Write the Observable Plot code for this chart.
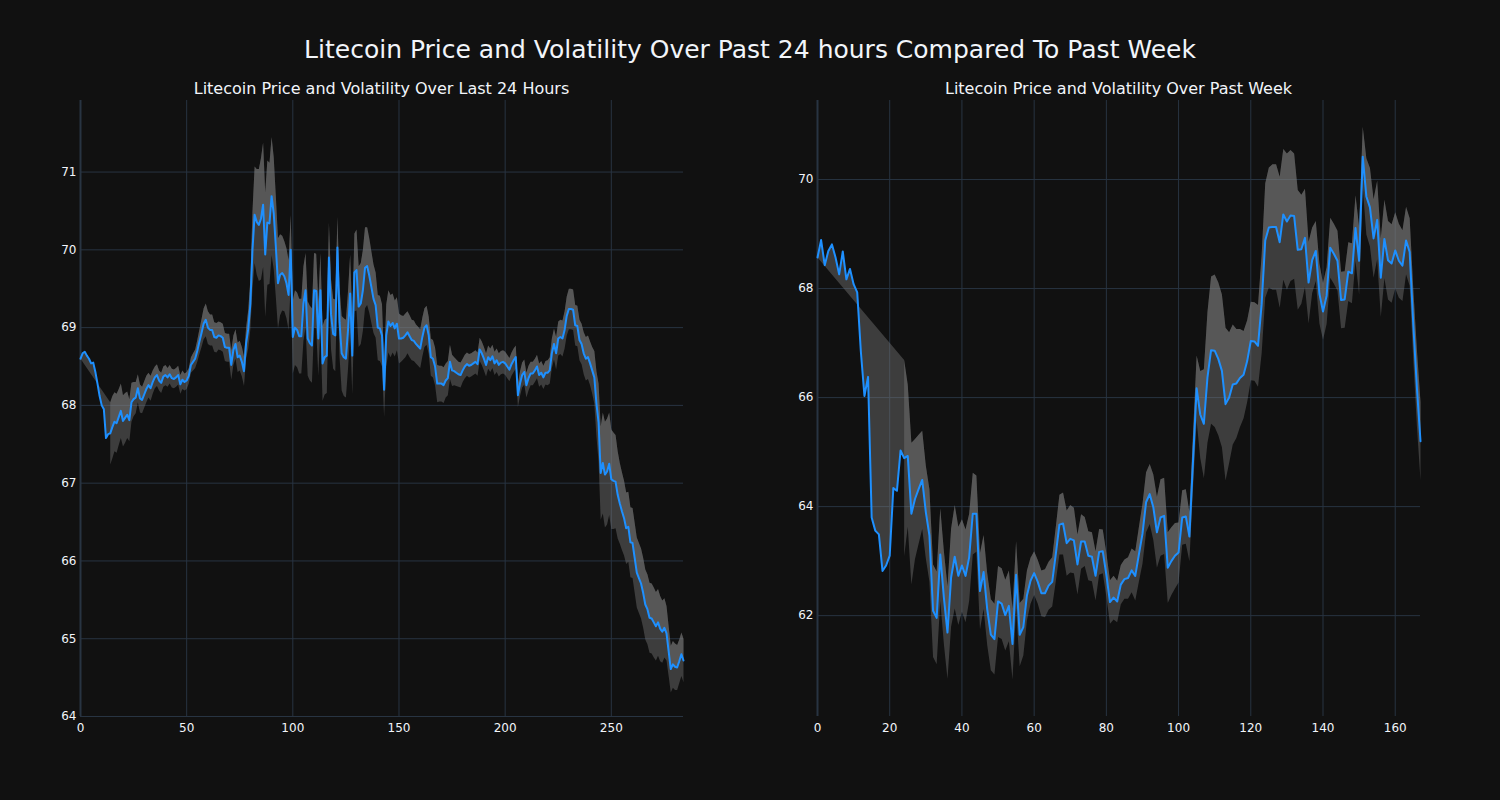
<!DOCTYPE html>
<html><head><meta charset="utf-8">
<script src="https://cdn.jsdelivr.net/npm/d3@7"></script>
<script src="https://cdn.jsdelivr.net/npm/@observablehq/plot@0.6"></script>
<style>
html,body{margin:0;padding:0;background:#111111;}
#wrap{position:relative;width:1500px;height:800px;background:#111111;font-family:"DejaVu Sans",sans-serif;color:#f2f5fa;overflow:hidden;}
.title{position:absolute;left:0;width:1500px;top:36px;line-height:28px;text-align:center;font-size:25px;}
.sub{position:absolute;top:80px;line-height:18px;font-size:16px;text-align:center;}
.panel{position:absolute;top:0;}
</style></head><body>
<div id="wrap">
  <div class="title">Litecoin Price and Volatility Over Past 24 hours Compared To Past Week</div>
  <div class="sub" style="left:80px;width:603px;">Litecoin Price and Volatility Over Last 24 Hours</div>
  <div class="sub" style="left:817px;width:603px;">Litecoin Price and Volatility Over Past Week</div>
  <div class="panel" id="left" style="left:0px;"></div>
  <div class="panel" id="right" style="left:750px;"></div>
</div>
<script>
// ---- Last 24 hours (5-minute steps) ----
const dayPrice = [
68.60,68.67,68.69,68.64,68.60,68.54,68.55,68.43,68.28,68.12,
68.00,67.95,67.58,67.63,67.64,67.72,67.79,67.77,67.85,67.93,
67.80,67.84,67.88,67.81,68.04,68.08,68.10,68.22,68.09,68.07,
68.14,68.21,68.26,68.22,68.30,68.36,68.39,68.32,68.29,68.37,
68.39,68.36,68.40,68.35,68.34,68.36,68.39,68.27,68.33,68.30,
68.32,68.38,68.52,68.56,68.60,68.70,68.82,68.93,69.05,69.10,
69.00,68.97,68.97,68.88,68.87,68.90,68.89,68.87,68.75,68.74,
68.74,68.52,68.71,68.79,68.62,68.64,68.56,68.44,68.80,68.98,
69.30,70.00,70.45,70.36,70.32,70.40,70.58,69.94,70.35,70.34,
70.69,70.47,70.04,69.57,69.68,69.70,69.66,69.57,69.42,70.00,
68.88,69.00,68.97,68.89,68.89,69.31,69.48,68.86,68.80,68.77,
69.48,69.47,68.86,69.48,68.54,68.62,68.64,69.90,69.17,68.92,
68.90,70.03,69.07,68.67,68.62,68.60,68.97,69.44,68.64,69.71,
69.74,69.27,69.31,69.48,69.77,69.79,69.67,69.52,69.37,69.29,
69.00,68.99,68.90,68.20,68.90,69.08,69.02,69.06,68.99,69.05,
68.86,68.86,68.87,68.90,68.94,68.89,68.84,68.83,68.79,68.76,
68.73,68.88,69.00,69.03,68.90,68.62,68.60,68.50,68.28,68.28,
68.28,68.26,68.32,68.35,68.56,68.45,68.44,68.42,68.40,68.39,
68.45,68.50,68.53,68.51,68.52,68.54,68.56,68.53,68.72,68.67,
68.60,68.52,68.62,68.58,68.63,68.54,68.58,68.52,68.55,68.56,
68.54,68.50,68.46,68.53,68.58,68.62,68.13,68.28,68.39,68.43,
68.26,68.35,68.41,68.41,68.45,68.50,68.39,68.42,68.36,68.42,
68.42,68.45,68.67,68.79,68.67,68.86,68.88,68.86,68.97,69.15,
69.24,69.24,69.23,69.03,69.02,68.84,68.79,68.67,68.60,68.62,
68.54,68.45,68.36,68.02,67.78,67.13,67.26,67.11,67.15,67.25,
67.05,67.03,67.02,66.85,66.74,66.64,66.55,66.42,66.44,66.24,
66.23,66.04,65.85,65.78,65.71,65.59,65.44,65.38,65.27,65.26,
65.21,65.16,65.21,65.13,65.09,65.14,65.07,64.84,64.61,64.67,
64.64,64.63,64.71,64.80,64.72
];
const dayVol = [
null,null,null,null,null,null,null,null,null,null,
null,null,null,null,0.40,0.40,0.38,0.38,0.36,0.35,
0.33,0.32,0.30,0.27,0.25,0.22,0.20,0.18,0.18,0.17,
0.17,0.17,0.16,0.16,0.15,0.14,0.14,0.13,0.13,0.13,
0.13,0.12,0.12,0.12,0.12,0.12,0.12,0.12,0.12,0.11,
0.11,0.10,0.10,0.11,0.12,0.14,0.16,0.18,0.20,0.21,
0.21,0.20,0.20,0.19,0.19,0.18,0.18,0.18,0.18,0.18,
0.18,0.19,0.19,0.19,0.19,0.19,0.19,0.19,0.20,0.25,
0.32,0.50,0.62,0.68,0.72,0.78,0.80,0.80,0.80,0.78,
0.76,0.72,0.65,0.58,0.52,0.48,0.45,0.45,0.45,0.45,
0.47,0.48,0.48,0.48,0.48,0.48,0.48,0.48,0.48,0.48,
0.48,0.48,0.48,0.48,0.48,0.48,0.48,0.45,0.45,0.45,
0.46,0.40,0.45,0.48,0.50,0.50,0.50,0.50,0.50,0.50,
0.52,0.52,0.52,0.52,0.52,0.50,0.48,0.46,0.44,0.42,
0.42,0.42,0.40,0.35,0.40,0.40,0.40,0.38,0.36,0.34,
0.32,0.30,0.28,0.28,0.27,0.27,0.26,0.26,0.25,0.25,
0.25,0.25,0.25,0.25,0.24,0.24,0.24,0.24,0.24,0.23,
0.23,0.23,0.22,0.22,0.22,0.20,0.18,0.17,0.16,0.16,
0.15,0.15,0.15,0.15,0.15,0.15,0.15,0.15,0.15,0.15,
0.15,0.15,0.15,0.15,0.15,0.15,0.15,0.15,0.15,0.15,
0.15,0.15,0.15,0.15,0.15,0.15,0.15,0.16,0.16,0.16,
0.16,0.16,0.15,0.15,0.15,0.15,0.15,0.15,0.15,0.15,
0.16,0.17,0.19,0.20,0.21,0.22,0.22,0.23,0.24,0.25,
0.26,0.26,0.26,0.26,0.26,0.26,0.26,0.27,0.28,0.28,
0.28,0.30,0.34,0.42,0.50,0.60,0.65,0.68,0.68,0.66,
0.64,0.62,0.60,0.56,0.52,0.50,0.48,0.46,0.45,0.45,
0.45,0.45,0.45,0.45,0.45,0.45,0.45,0.45,0.45,0.45,
0.45,0.44,0.43,0.42,0.40,0.38,0.35,0.32,0.30,0.30,
0.30,0.29,0.28,0.28,0.28
];
const dayXTicks = [0, 50, 100, 150, 200, 250];
const dayYTicks = [64, 65, 66, 67, 68, 69, 70, 71];

// ---- Past week (hourly steps) ----
const weekPrice = [
68.57,68.89,68.43,68.69,68.81,68.57,68.26,68.68,68.17,68.36,
68.08,67.93,66.85,66.03,66.38,63.80,63.56,63.49,62.82,62.92,
63.10,64.34,64.29,65.03,64.89,64.93,63.87,64.14,64.32,64.49,
63.90,63.47,62.09,61.96,63.12,62.33,61.69,62.70,63.08,62.73,
62.92,62.73,63.07,63.87,63.87,62.45,62.80,62.12,61.65,61.57,
62.26,62.22,62.01,62.18,61.48,62.75,61.65,61.79,62.37,62.64,
62.78,62.62,62.41,62.41,62.55,62.62,63.13,63.67,63.69,63.33,
63.41,63.38,62.94,63.36,63.36,63.10,63.08,62.73,63.17,63.18,
62.75,62.25,62.33,62.26,62.57,62.67,62.69,62.83,62.73,63.12,
63.50,64.08,64.23,63.99,63.53,63.80,63.83,62.88,63.00,63.10,
63.16,63.80,63.82,63.45,64.84,66.17,65.69,65.52,66.37,66.87,
66.86,66.71,66.49,65.88,66.00,66.24,66.26,66.36,66.42,66.67,
67.04,67.03,66.95,67.71,68.88,69.12,69.13,69.13,68.85,69.36,
69.23,69.34,69.33,68.71,68.72,68.93,68.11,68.52,68.69,67.91,
67.58,67.87,68.75,68.64,68.51,67.79,67.80,68.31,68.28,69.11,
68.51,70.42,69.69,69.49,68.92,69.26,68.20,68.91,68.52,68.46,
68.70,68.51,68.42,68.88,68.67,67.34,66.18,65.20
];
const weekVol = [
null,null,null,null,null,null,null,null,null,null,
null,null,null,null,null,null,null,null,null,null,
null,null,null,null,1.80,1.30,1.30,1.10,1.00,0.90,
0.85,0.85,0.85,0.85,0.85,0.85,0.85,0.90,0.95,0.90,
0.85,0.85,0.80,0.75,0.70,0.70,0.68,0.66,0.65,0.65,
0.65,0.65,0.65,0.65,0.65,0.62,0.58,0.52,0.46,0.42,
0.40,0.40,0.42,0.44,0.44,0.45,0.50,0.55,0.57,0.60,
0.62,0.60,0.55,0.50,0.45,0.45,0.45,0.45,0.42,0.40,
0.40,0.40,0.40,0.38,0.36,0.36,0.38,0.40,0.45,0.50,
0.55,0.55,0.55,0.60,0.65,0.70,0.70,0.65,0.62,0.60,
0.55,0.50,0.50,0.45,0.50,0.60,0.80,1.00,1.20,1.35,
1.40,1.40,1.40,1.40,1.20,1.10,1.00,0.90,0.80,0.75,
0.72,0.72,0.75,0.90,1.05,1.10,1.15,1.15,1.20,1.20,
1.25,1.20,1.15,1.10,1.00,0.90,0.75,0.60,0.55,0.55,
0.52,0.52,0.55,0.55,0.55,0.52,0.52,0.54,0.55,0.60,
0.62,0.55,0.70,0.72,0.72,0.72,0.72,0.72,0.72,0.72,
0.70,0.68,0.65,0.62,0.62,0.65,0.70,0.72
];
const weekXTicks = [0, 20, 40, 60, 80, 100, 120, 140, 160];
const weekYTicks = [62, 64, 66, 68, 70];

const GRID = "#283442";
const BAND = "rgba(128,128,128,0.4)";
const LINE = "#1e90ff";

function panel({price, vol, xDomain, yDomain, xTicks, yTicks, marginLeft, marginRight}) {
  const rows = price.map((p, i) => ({i, p, v: vol[i]}));
  const banded = rows.filter(d => d.v != null);
  // upper bound filled to price (plotly "tonexty" style polygon)
  const upperFill = [
    ...banded.map(d => ({x: d.i, y: d.p + d.v})),
    ...rows.slice().reverse().map(d => ({x: d.i, y: d.p}))
  ];
  // lower bound filled to upper bound
  const lowerFill = [
    ...banded.map(d => ({x: d.i, y: d.p - d.v})),
    ...banded.slice().reverse().map(d => ({x: d.i, y: d.p + d.v}))
  ];
  return Plot.plot({
    width: 750, height: 800,
    marginTop: 100, marginBottom: 84, marginLeft, marginRight,
    style: {background: "transparent", color: "#f2f5fa", fontFamily: "DejaVu Sans", fontSize: "12px"},
    x: {domain: xDomain, ticks: xTicks, tickSize: 0, tickPadding: 7, label: null},
    y: {domain: yDomain, ticks: yTicks, tickSize: 0, tickPadding: 4, label: null},
    marks: [
      Plot.gridX(xTicks, {stroke: GRID, strokeOpacity: 1, strokeWidth: 1}),
      Plot.gridY(yTicks, {stroke: GRID, strokeOpacity: 1, strokeWidth: 1}),
      Plot.ruleX([0], {stroke: GRID, strokeWidth: 2}),
      Plot.line(upperFill, {x: "x", y: "y", fill: BAND, stroke: "none"}),
      Plot.line(lowerFill, {x: "x", y: "y", fill: BAND, stroke: "none"}),
      Plot.line(rows, {x: "i", y: "p", stroke: LINE, strokeWidth: 2})
    ]
  });
}

document.getElementById("left").appendChild(panel({
  price: dayPrice, vol: dayVol, xDomain: [0, 284], yDomain: [64, 71.92],
  xTicks: dayXTicks, yTicks: dayYTicks, marginLeft: 80, marginRight: 67
}));
document.getElementById("right").appendChild(panel({
  price: weekPrice, vol: weekVol, xDomain: [0, 167], yDomain: [60.15, 71.45],
  xTicks: weekXTicks, yTicks: weekYTicks, marginLeft: 67, marginRight: 80
}));
</script>
</body></html>
